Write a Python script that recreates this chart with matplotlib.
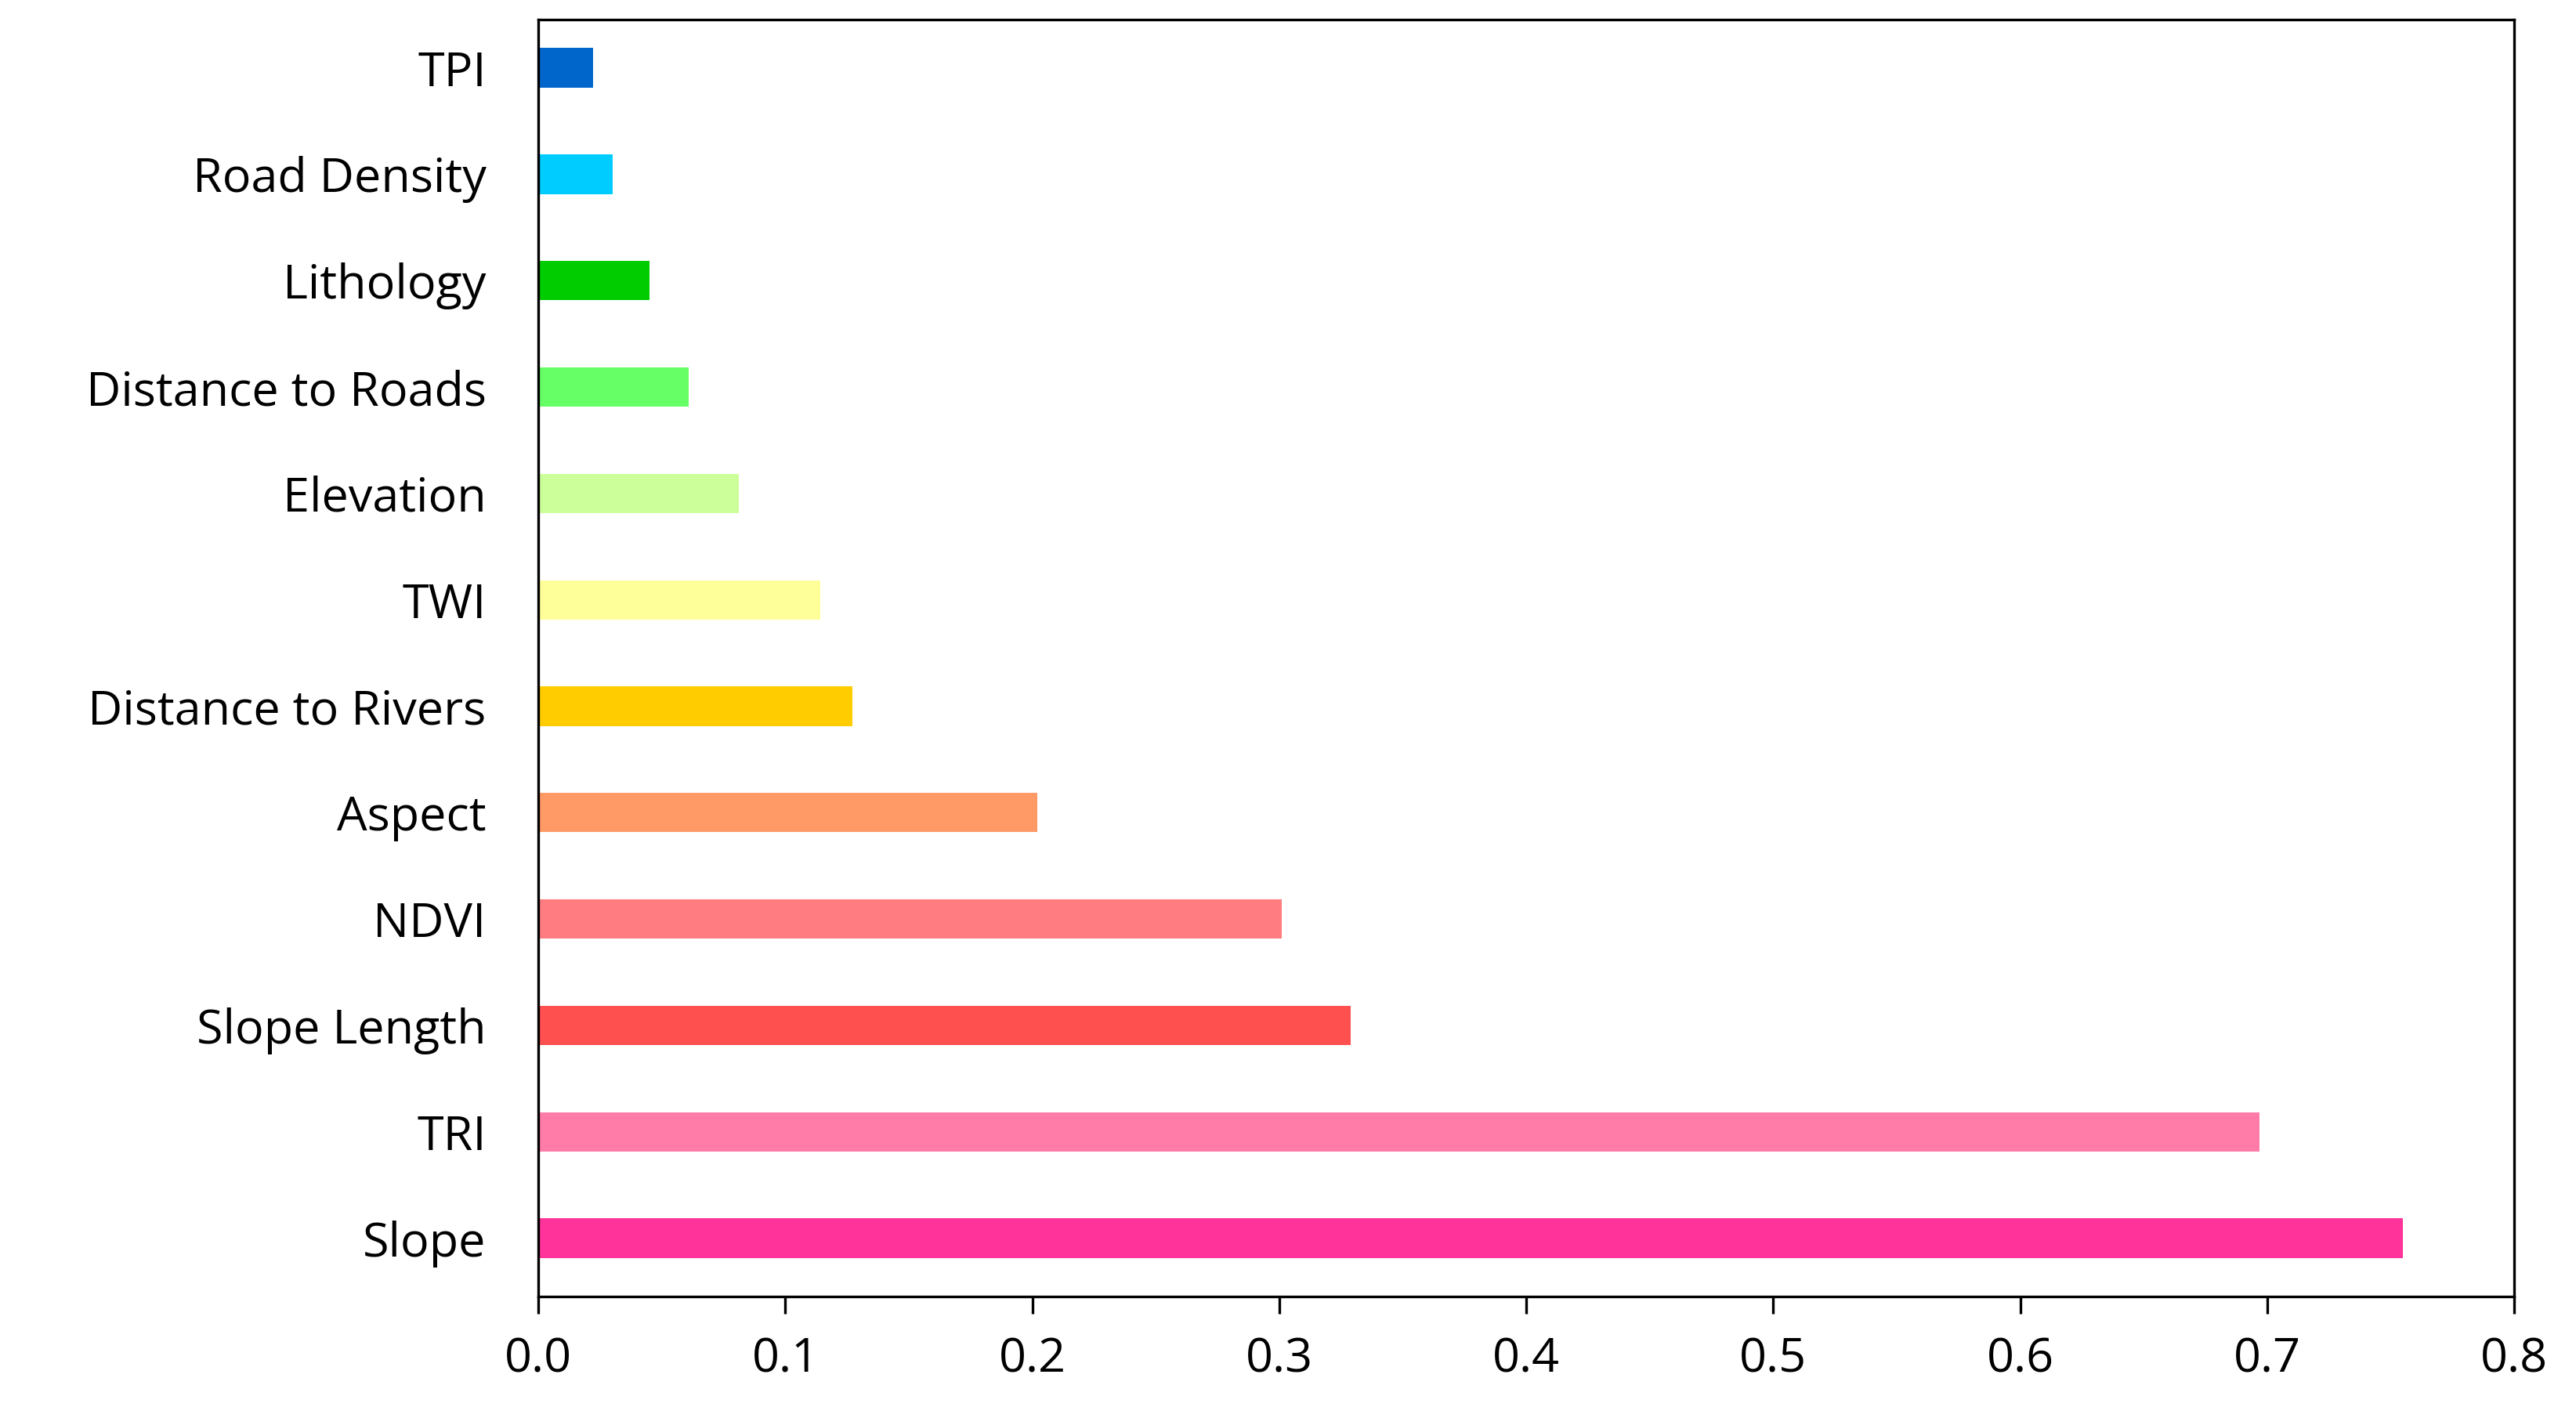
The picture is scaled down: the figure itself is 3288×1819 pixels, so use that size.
from matplotlib import pyplot as plt
import numpy as np

features = ["Slope", "TRI", "Slope Length", "NDVI", "Aspect", "Distance to Rivers",
            "TWI", "Elevation", "Distance to Roads", "Lithology", "Road Density", "TPI"]
importance = [0.755, 0.697, 0.329, 0.301, 0.202, 0.127,
              0.114, 0.081, 0.061, 0.045, 0.030, 0.022]
colors = ["#FF3399", "#FF7CA8", "#FF5050", "#FF7C80", "#FF9966", "#FFCC00",
          "#FFFF99", "#CCFF99", "#66FF66", "#00CC00", "#00CCFF", "#0066CC"]

plt.rcParams["font.family"] = ["Open Sans", "DejaVu Sans"]

fig = plt.figure(figsize=(16.44, 9.095), dpi=200)
ax = fig.add_axes([0.209, 0.09, 0.767, 0.896])

y = np.arange(len(features))
ax.barh(y, importance, height=0.37, color=colors)

ax.set_xlim(0, 0.8)
ax.set_ylim(-0.55, len(features) - 0.55)
ax.set_xticks(np.arange(0, 0.81, 0.1))
ax.set_xticklabels([f"{v:.1f}" for v in np.arange(0, 0.81, 0.1)], fontsize=22)
ax.set_yticks(y)
ax.set_yticklabels(features, fontsize=22)
ax.tick_params(axis="y", length=0, pad=24)
ax.tick_params(axis="x", length=8, width=1.2, pad=10)
for s in ax.spines.values():
    s.set_linewidth(1.2)

fig.savefig("out.png", dpi=200)
plt.close(fig)
